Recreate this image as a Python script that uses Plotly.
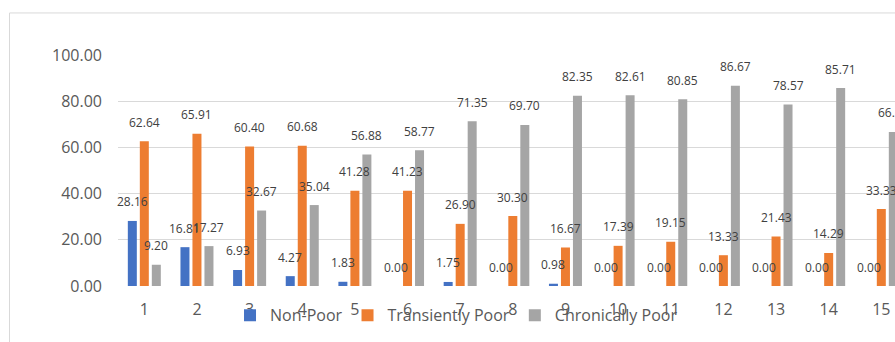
import plotly.graph_objects as go

# Share of households by poverty status across 15 groups (percent)
categories = list(range(1, 16))
tick_labels = [str(c) for c in categories]

non_poor = [28.16, 16.81, 6.93, 4.27, 1.83, 0.00, 1.75, 0.00, 0.98, 0.00,
            0.00, 0.00, 0.00, 0.00, 0.00]
transiently_poor = [62.64, 65.91, 60.40, 60.68, 41.28, 41.23, 26.90, 30.30,
                    16.67, 17.39, 19.15, 13.33, 21.43, 14.29, 33.33]
chronically_poor = [9.20, 17.27, 32.67, 35.04, 56.88, 58.77, 71.35, 69.70,
                    82.35, 82.61, 80.85, 86.67, 78.57, 85.71, 66.67]

series = [
    ("Non-Poor", non_poor, "#4472C4"),
    ("Transiently Poor", transiently_poor, "#ED7D31"),
    ("Chronically Poor", chronically_poor, "#A5A5A5"),
]

FONT = "Open Sans"
BAR_GAP = 0.316
GROUP_GAP = 0.25
slot = (1 - BAR_GAP) / len(series)

fig = go.Figure()
annotations = []
for i, (name, values, color) in enumerate(series):
    fig.add_trace(go.Bar(
        x=categories, y=values, name=name,
        marker=dict(color=color, line=dict(width=0)),
        hoverinfo="skip",
    ))
    # value labels centred above each bar of the group
    offset = (i - (len(series) - 1) / 2) * slot
    for c, v in zip(categories, values):
        annotations.append(dict(
            x=c + offset, y=v, xref="x", yref="y",
            text=f"{v:.2f}", showarrow=False,
            xanchor="center", yanchor="middle", yshift=19,
            font=dict(family=FONT, size=12, color="#404040"),
        ))

fig.update_layout(
    width=895, height=342,
    margin=dict(l=118, r=0, t=55, b=56, autoexpand=False),
    paper_bgcolor="white", plot_bgcolor="white",
    barmode="group", bargap=BAR_GAP, bargroupgap=GROUP_GAP,
    font=dict(family=FONT, color="#595959"),
    annotations=annotations,
    legend=dict(
        orientation="h",
        xref="container", yref="container",
        x=0.257, y=0.078, xanchor="left", yanchor="middle",
        font=dict(family=FONT, size=16, color="#595959"),
        bgcolor="rgba(0,0,0,0)",
        itemwidth=30,
    ),
    shapes=[dict(
        type="rect", xref="paper", yref="paper",
        x0=-0.1396, x1=1.2, y0=-0.5, y1=1.182,
        line=dict(color="#D9D9D9", width=1), layer="below",
    )],
)

fig.update_xaxes(
    range=[0.5, 15.26], tickmode="array",
    tickvals=categories, ticktext=tick_labels,
    showgrid=False, zeroline=False, showline=False, ticks="",
    tickfont=dict(family=FONT, size=16, color="#595959"),
    ticklabelstandoff=12,
)
fig.update_yaxes(
    range=[0, 100], dtick=20, tickformat=".2f",
    showgrid=True, gridcolor="#D9D9D9", gridwidth=1.3,
    zeroline=False, showline=False, ticks="",
    tickfont=dict(family=FONT, size=16, color="#595959"),
    ticklabelstandoff=15,
)

fig.write_html("out.html")
